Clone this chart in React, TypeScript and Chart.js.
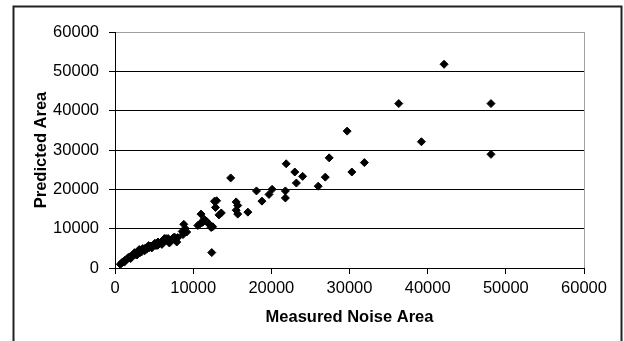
import React, { useEffect, useRef } from 'react';
import { Chart, registerables } from 'chart.js';

Chart.register(...registerables);

// Measured Noise Area (x) and Predicted Area (y)
const measuredNoiseArea = [
  680, 850, 970, 1150, 1300, 1450, 1610, 1800, 1950, 2100,
  2260, 2400, 2550, 2700, 2900, 3050, 3200, 3350, 3540, 3700,
  3900, 4050, 4180, 4400, 4600, 4800, 5040, 5250, 5460, 5650,
  5890, 6100, 6320, 6530, 6700, 6960, 7200, 7600, 7900, 8020,
  1200, 1700, 2000, 2500, 2800, 3100, 3400, 3800, 4300, 4700,
  5100, 5500, 6000, 6800, 7400, 7700,
  8700, 8600, 8800, 9000, 9170,
  10600, 10900, 11000, 11200, 11400, 11700, 12000, 12300, 12500,
  12720, 13000, 12850, 13600, 13300, 12380,
  14800, 15500, 15700, 15500, 15700, 17000,
  18100, 18800, 19700, 20100, 21800, 21800, 21900,
  23000, 24000, 23200, 27400, 26900, 26000, 30300, 31900, 29700,
  36300, 42100, 48100, 39200, 48100,
];

const predictedArea = [
  940, 1250, 1530, 1700, 2000, 2150, 2390, 2600, 2850, 3000,
  3230, 3500, 3400, 3800, 4070, 4300, 3900, 4500, 4930, 4600,
  5100, 4800, 5340, 5200, 5600, 5500, 5950, 5700, 5770, 6200,
  6610, 6400, 7470, 7470, 6900, 6360, 7100, 7880, 6610, 7730,
  1500, 2700, 2400, 3900, 3300, 4700, 4100, 4400, 5700, 5100,
  6300, 6600, 6000, 7500, 7600, 7200,
  8500, 9300, 11100, 10000, 9150,
  10800, 11300, 13700, 11600, 12400, 11900, 11200, 10300, 10500,
  16960, 17100, 15400, 14000, 13500, 3920,
  22900, 16800, 15900, 14700, 13700, 14200,
  19600, 17000, 18700, 20000, 19600, 17800, 26500,
  24400, 23300, 21600, 28000, 23100, 20800, 24400, 26800, 34800,
  41800, 51800, 41800, 32100, 28900,
];

const xTickValues = [0, 10000, 20000, 30000, 40000, 50000, 60000];
const yTickValues = [0, 10000, 20000, 30000, 40000, 50000, 60000];

const FONT = "'Liberation Sans', Arial, Helvetica, sans-serif";

const framePlugin = {
  id: 'frame',
  afterDraw(chart: any) {
    const ctx = chart.ctx;
    ctx.save();
    ctx.strokeStyle = '#222';
    ctx.lineWidth = 2;
    ctx.strokeRect(13.5, 6.5, 608, 400);
    ctx.restore();
  },
};

export default function App() {
  const ref = useRef<HTMLCanvasElement | null>(null);

  useEffect(() => {
    if (!ref.current) return;
    const points = measuredNoiseArea.map((x, i) => ({ x, y: predictedArea[i] }));
    const chart = new Chart(ref.current, {
      type: 'scatter',
      data: {
        datasets: [
          {
            label: 'Predicted Area',
            data: points,
            pointStyle: 'rectRot',
            pointRadius: 4,
            pointHoverRadius: 4,
            backgroundColor: '#000',
            borderColor: '#000',
            borderWidth: 1,
          },
        ],
      },
      options: {
        responsive: false,
        animation: false,
        layout: { padding: { top: 32, right: 40, bottom: 0, left: 0 } },
        plugins: {
          legend: { display: false },
          tooltip: { enabled: false },
        },
        scales: {
          x: {
            type: 'linear',
            min: 0,
            max: 60000,
            afterBuildTicks: (s: any) => {
              s.ticks = xTickValues.map((v) => ({ value: v }));
            },
            afterFit: (s: any) => {
              s.height = 73;
            },
            ticks: {
              color: '#000',
              font: { family: FONT, size: 16.5 },
              padding: 5,
              maxRotation: 0,
              callback: (v: any) => String(v),
            },
            grid: {
              color: (c: any) => (c.tick && c.tick.value === 60000 ? '#a0a0a0' : 'rgba(0,0,0,0)'),
              tickColor: '#000',
              tickLength: 6,
              lineWidth: 1,
            },
            border: { display: true, color: '#000', width: 1 },
            title: {
              display: true,
              text: 'Measured Noise Area',
              color: '#000',
              font: { family: FONT, size: 16.5, weight: 'bold' },
              padding: { top: 0, bottom: 14 },
            },
          },
          y: {
            type: 'linear',
            min: 0,
            max: 60000,
            afterBuildTicks: (s: any) => {
              s.ticks = yTickValues.map((v) => ({ value: v }));
            },
            afterFit: (s: any) => {
              s.width = 115;
            },
            ticks: {
              color: '#000',
              font: { family: FONT, size: 16.5 },
              padding: 10,
              callback: (v: any) => String(v),
            },
            grid: {
              color: (c: any) => (c.tick && c.tick.value === 60000 ? '#a0a0a0' : '#000'),
              tickColor: '#000',
              tickLength: 6,
              lineWidth: 1,
            },
            border: { display: true, color: '#000', width: 1 },
            title: {
              display: true,
              text: 'Predicted Area',
              color: '#000',
              font: { family: FONT, size: 16.5, weight: 'bold' },
              padding: { top: 32, bottom: 0 },
            },
          },
        },
      },
      plugins: [framePlugin],
    });
    return () => chart.destroy();
  }, []);

  return (
    <div style={{ position: 'absolute', left: 0, top: 0, width: 624, height: 341 }}>
      <canvas ref={ref} width={624} height={341} style={{ display: 'block' }} />
    </div>
  );
}
